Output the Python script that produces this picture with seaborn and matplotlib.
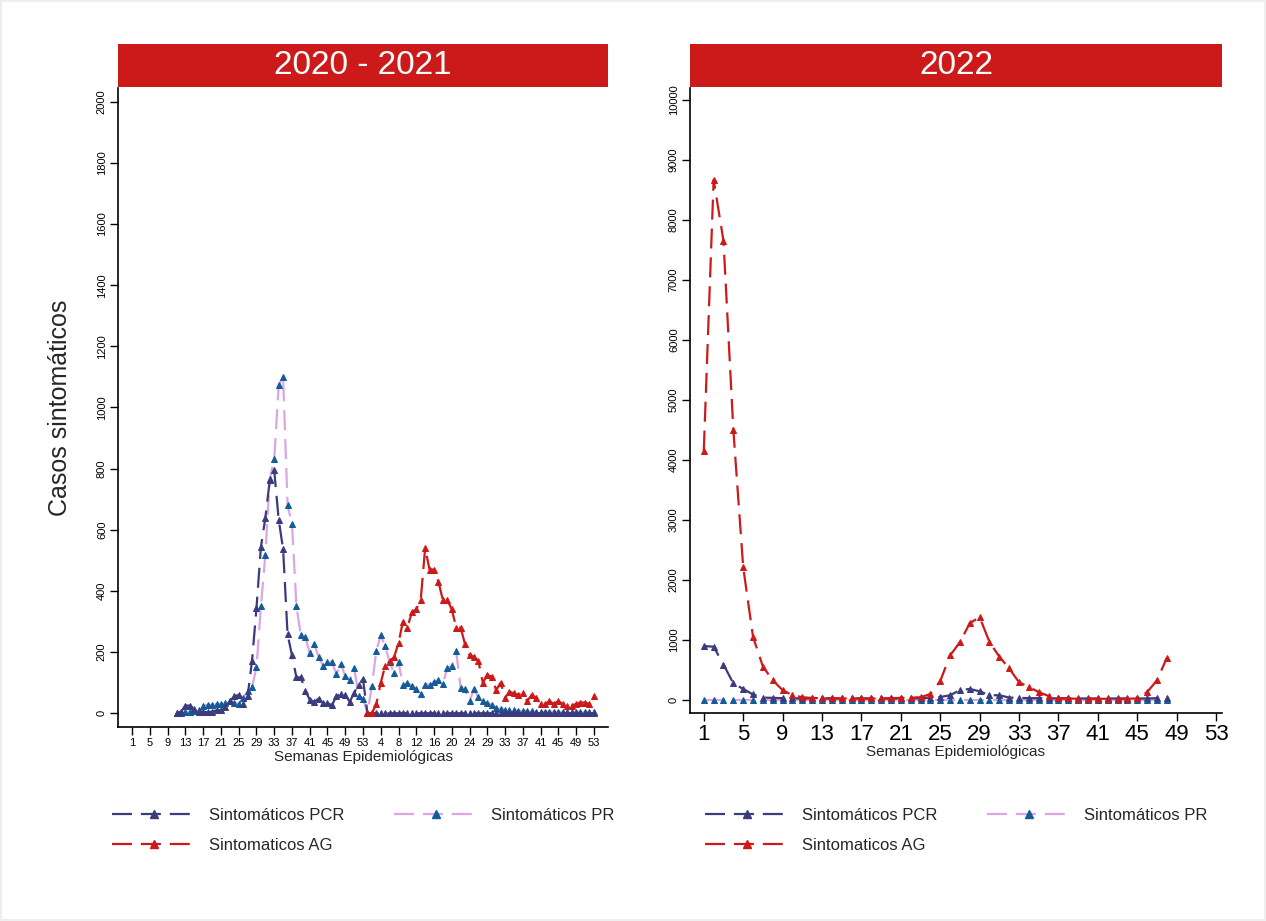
import numpy as np
import pandas as pd
import matplotlib.pyplot as plt
import seaborn as sns
from matplotlib.lines import Line2D

# ---- 2020-2021 (index t: week w of 2020 -> w, week w of 2021 -> 53 + w)
pcr_2020 = [0, 5, 25, 25, 15, 5, 5, 3, 5, 10, 10, 20, 40, 55, 60, 30, 55, 172, 344, 544,
            639, 763, 794, 633, 537, 259, 189, 117, 117, 74, 44, 37, 48, 33, 33, 26, 56,
            63, 61, 37, 67, 94, 111]
pr_2020 = [0, 2, 3, 5, 8, 10, 25, 28, 27, 30, 30, 35, 40, 35, 30, 50, 72, 86, 150, 350,
           517, 767, 830, 1074, 1100, 680, 620, 350, 255, 250, 197, 225, 185, 155, 169,
           167, 128, 161, 122, 108, 148, 58, 48]
pr_2021 = [0, 89, 205, 255, 219, 167, 133, 167, 92, 100, 89, 78, 63, 94, 94, 103, 108,
           97, 148, 155, 202, 83, 78, 41, 78, 52, 39, 33, 28, 17, 14, 12, 10, 10, 8, 8,
           6, 6, 5, 5, 5, 5, 4, 4, 4, 4, 3, 3, 3, 3, 3, 3]
ag_2021 = [0, 0, 30, 100, 155, 170, 183, 230, 300, 280, 330, 340, 370, 540, 470, 470,
           430, 370, 370, 340, 280, 280, 225, 190, 185, 170, 100, 125, 120, 75, 100, 50,
           70, 65, 60, 65, 40, 60, 50, 30, 30, 40, 30, 40, 30, 25, 25, 30, 35, 35, 30, 55]
t_2020 = list(range(11, 54))
t_2021 = list(range(54, 106))
left_ticks = list(range(1, 106, 4))
left_labels = [str(w) for w in range(1, 54, 4)] + \
    ["4", "8", "12", "16", "20", "24", "29", "33", "37", "41", "45", "49", "53"]

# ---- 2022
weeks_2022 = list(range(1, 49))
ag_2022 = [4157, 8670, 7650, 4500, 2213, 1050, 558, 328, 164, 80, 46, 33, 30, 30, 25,
           25, 25, 25, 25, 30, 35, 40, 45, 100, 315, 742, 965, 1280, 1380, 965, 722, 525,
           295, 217, 131, 66, 33, 25, 20, 20, 20, 20, 20, 20, 25, 131, 328, 700]
pcr_2022 = [900, 887, 591, 276, 184, 92, 40, 35, 30, 30, 25, 25, 25, 25, 25, 25, 25, 25,
            25, 25, 25, 25, 30, 35, 50, 79, 164, 184, 144, 79, 79, 40, 35, 30, 30, 30, 25,
            25, 25, 25, 25, 25, 25, 25, 25, 25, 30, 40]
pr_2022 = [0] * 48

C_PCR = "#3b3b7d"
C_PR_LINE = "#dba6e3"
C_PR_MK = "#135c99"
C_AG = "#cc1a1a"
DASH = (0, (9, 4))

sns.set_theme(style="white")
plt.rcParams["font.family"] = ["Liberation Sans", "DejaVu Sans"]

fig = plt.figure(figsize=(12.66, 9.21), dpi=100)
fig.patch.set_edgecolor("#eeeeee")
fig.patch.set_linewidth(1.5)
W, H = 1266, 921
ax1 = fig.add_axes([118 / W, 1 - 727 / H, 490 / W, 639 / H])
ax2 = fig.add_axes([690 / W, 1 - 713 / H, 532 / W, 625 / H])


def draw(ax, x, y, lc, mc, ms=5):
    sns.lineplot(x=x, y=y, ax=ax, color=lc, linestyle=DASH, linewidth=1.6,
                 marker="^", markersize=ms, markerfacecolor=mc, markeredgecolor=mc)


# left panel
draw(ax1, t_2020 + t_2021, pr_2020 + pr_2021, C_PR_LINE, C_PR_MK)
draw(ax1, t_2020 + t_2021, pcr_2020 + [0] * len(t_2021), C_PCR, C_PCR)
draw(ax1, t_2021, ag_2021, C_AG, C_AG)
ax1.set_xlim(-2.2, 108.2)
ax1.set_ylim(-45, 2045)
ax1.set_xticks(left_ticks)
ax1.set_xticklabels(left_labels, fontsize=8)
ax1.set_yticks(range(0, 2001, 200))
ax1.set_yticklabels([str(v) for v in range(0, 2001, 200)], fontsize=8, rotation=90, va="center")
ax1.set_ylabel("Casos sintomáticos", fontsize=18, labelpad=18)
ax1.set_xlabel("Semanas Epidemiológicas", fontsize=11, labelpad=1)

# right panel
draw(ax2, weeks_2022, pr_2022, C_PR_LINE, C_PR_MK, 5)
draw(ax2, weeks_2022, pcr_2022, C_PCR, C_PCR, 5)
draw(ax2, weeks_2022, ag_2022, C_AG, C_AG, 5)
ax2.set_xlim(-0.4, 53.6)
ax2.set_ylim(-217, 10200)
ax2.set_xticks(range(1, 54, 4))
ax2.set_xticklabels([str(w) for w in range(1, 54, 4)], fontsize=16)
ax2.set_yticks(range(0, 10001, 1000))
ax2.set_yticklabels([str(v) for v in range(0, 10001, 1000)], fontsize=8, rotation=90, va="center")
ax2.set_ylabel("")
ax2.set_xlabel("Semanas Epidemiológicas", fontsize=11, labelpad=0)

for ax, title in [(ax1, "2020 - 2021"), (ax2, "2022")]:
    sns.despine(ax=ax)
    for s in ["left", "bottom"]:
        ax.spines[s].set_color("black")
        ax.spines[s].set_linewidth(1.2)
    ax.tick_params(axis="both", which="both", length=6, width=1, color="black",
                   direction="out", left=True, bottom=True, colors="black", pad=2)
    pos = ax.get_position()
    fig.patches.append(plt.Rectangle((pos.x0, 1 - 87 / H), pos.width, 43 / H,
                                     transform=fig.transFigure, facecolor=C_AG,
                                     edgecolor="none"))
    fig.text(pos.x0 + pos.width / 2, 1 - 65 / H, title, color="white", fontsize=24,
             ha="center", va="center")

h_pcr = Line2D([], [], color=C_PCR, linestyle=DASH, lw=1.6, marker="^", markersize=6,
               markerfacecolor=C_PCR, markeredgecolor=C_PCR)
h_pr = Line2D([], [], color=C_PR_LINE, linestyle=DASH, lw=1.6, marker="^", markersize=6,
              markerfacecolor=C_PR_MK, markeredgecolor=C_PR_MK)
h_ag = Line2D([], [], color=C_AG, linestyle=DASH, lw=1.6, marker="^", markersize=6,
              markerfacecolor=C_AG, markeredgecolor=C_AG)
# column-major fill: col 1 = PCR, AG ; col 2 = PR
handles = [h_pcr, h_ag, h_pr]
labels = ["Sintomáticos PCR", "Sintomaticos AG", "Sintomáticos PR"]
for ax in (ax1, ax2):
    pos = ax.get_position()
    fig.legend(handles, labels, ncol=2, loc="upper center",
               bbox_to_anchor=(pos.x0 + pos.width / 2, 1 - 793 / H),
               frameon=False, fontsize=12, handlelength=5, columnspacing=3,
               labelspacing=0.9)

fig.savefig("out.png", dpi=100)
